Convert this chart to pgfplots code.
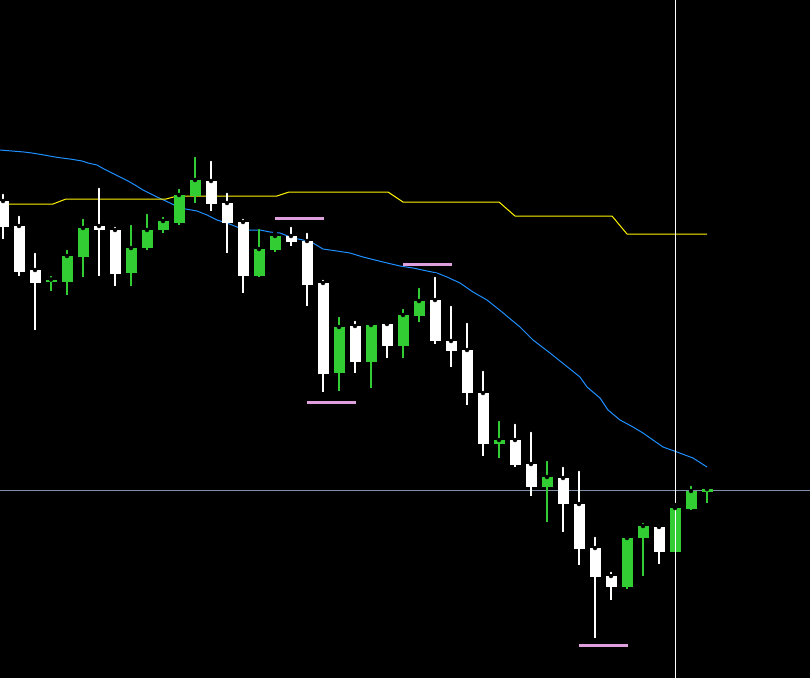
\documentclass[border=0pt]{standalone}
\usepackage{pgfplots}
\pgfplotsset{compat=1.18}
\usepackage{pgfplotstable}

\definecolor{upgreen}{RGB}{50,205,50}
\definecolor{mablue}{RGB}{30,144,255}
\definecolor{levelpink}{RGB}{221,160,221}
\definecolor{crossgray}{RGB}{128,144,168}

% candles in screen units: x, wick top, wick bottom, body top, body bottom
\pgfplotstableread{
x   hi  lo  bt  bb
3   192 239 201 227
19  214 276 226 272
35  251 330 270 283
99  186 276 226 230
115 225 286 230 274
211 159 211 181 204
227 191 253 203 223
243 217 293 222 276
291 225 246 236 242
307 231 306 241 285
323 278 392 283 374
355 319 373 326 362
387 321 358 324 346
435 275 344 300 341
451 304 367 341 351
467 321 405 350 393
483 369 456 393 444
515 422 467 440 465
531 430 496 464 487
563 465 532 478 504
579 469 565 504 549
595 535 638 548 577
611 570 600 576 587
659 523 564 527 552
}\downbars

\pgfplotstableread{
x   hi  lo  bt  bb
51  274 291 279.5 282
67  248 295 256 282
83  217 277 228 257
131 223 286 248 273
147 212 250 230 248
163 215 233 221 230
179 187 225 195 223
195 155 203 180 196
259 227 277 249 276
275 233 252 236 250
339 315 391 327 373
371 323 388 325 362
403 307 358 315 346
419 286 322 301 316
499 419 458 440 444
547 459 522 477 487
627 537 589 538 587
643 521 576 526 538
675 505 552 508 552
691 484 510 491 509
707 487 503 489 492
}\upbars

\pgfplotsset{
  wick/.style={only marks, mark=none, forget plot,
    error bars/.cd, y dir=plus, y explicit, error mark=none,
    error bar style={draw=#1, line width=1.2pt}},
  body/.style={only marks, mark=none, forget plot,
    error bars/.cd, y dir=plus, y explicit, error mark=none,
    error bar style={draw=#1, line width=11pt}},
}

\begin{document}
\begin{tikzpicture}
\fill[black] (0,0) rectangle (810pt,678pt);
\begin{axis}[
  at={(0,0)}, anchor=south west,
  scale only axis,
  width=810pt, height=678pt,
  xmin=0, xmax=810, ymin=0, ymax=678,
  y dir=reverse,
  axis lines=none,
  clip=true,
]
% moving averages
\addplot[mablue, line width=1pt] coordinates {
(0,150)(12,151)(24,152)(32,153)(38,154)(44,155)(55,157)(62,158)(70,159)(76,160)
(82,161)(88,163)(97,165)(104,169)(112,173)(120,177)(128,181)(135,185)(143,190)
(157,197)(170,203)(180,208)(197,211)(207,215)(217,220)(227,223)(237,227)(247,230)
(260,230)(270,232)(280,233)(293,238)(303,240)(313,243)(323,249)(337,251)(350,253)
(363,257)(383,262)(400,266)(413,268)(427,271)(437,273)(447,277)(460,283)(473,292)
(487,300)(502,312)(520,327)(533,340)(550,353)(565,365)(580,377)(587,387)(600,398)
(608,410)(620,420)(633,427)(643,433)(653,440)(663,447)(677,452)(693,458)(707,467)};
\addplot[yellow, line width=1pt] coordinates {
(0,204)(53,204)(66,199)(166,199)(177,196)(277,196)(289,192)(388,192)(403,202)
(499,202)(515,216)(612,216)(627,234)(707,234)};

% level marks
\addplot[levelpink, line width=3pt] coordinates {(275,218)(324,218)};
\addplot[levelpink, line width=3pt] coordinates {(403,264)(452,264)};
\addplot[levelpink, line width=3pt] coordinates {(307,402)(356,402)};
\addplot[levelpink, line width=3pt] coordinates {(579,645)(628,645)};

% horizontal crosshair under the candles
\addplot[crossgray, line width=1pt] coordinates {(0,490)(810,490)};

% candles
\addplot[wick=white] table[x=x, y=hi, y error expr=\thisrow{lo}-\thisrow{hi}] {\downbars};
\addplot[body=white] table[x=x, y=bt, y error expr=\thisrow{bb}-\thisrow{bt}] {\downbars};
\addplot[wick=upgreen] table[x=x, y=hi, y error expr=\thisrow{lo}-\thisrow{hi}] {\upbars};
\addplot[body=upgreen] table[x=x, y=bt, y error expr=\thisrow{bb}-\thisrow{bt}] {\upbars};

% vertical crosshair
\addplot[white, line width=1pt] coordinates {(675,0)(675,678)};
\end{axis}
\end{tikzpicture}
\end{document}
